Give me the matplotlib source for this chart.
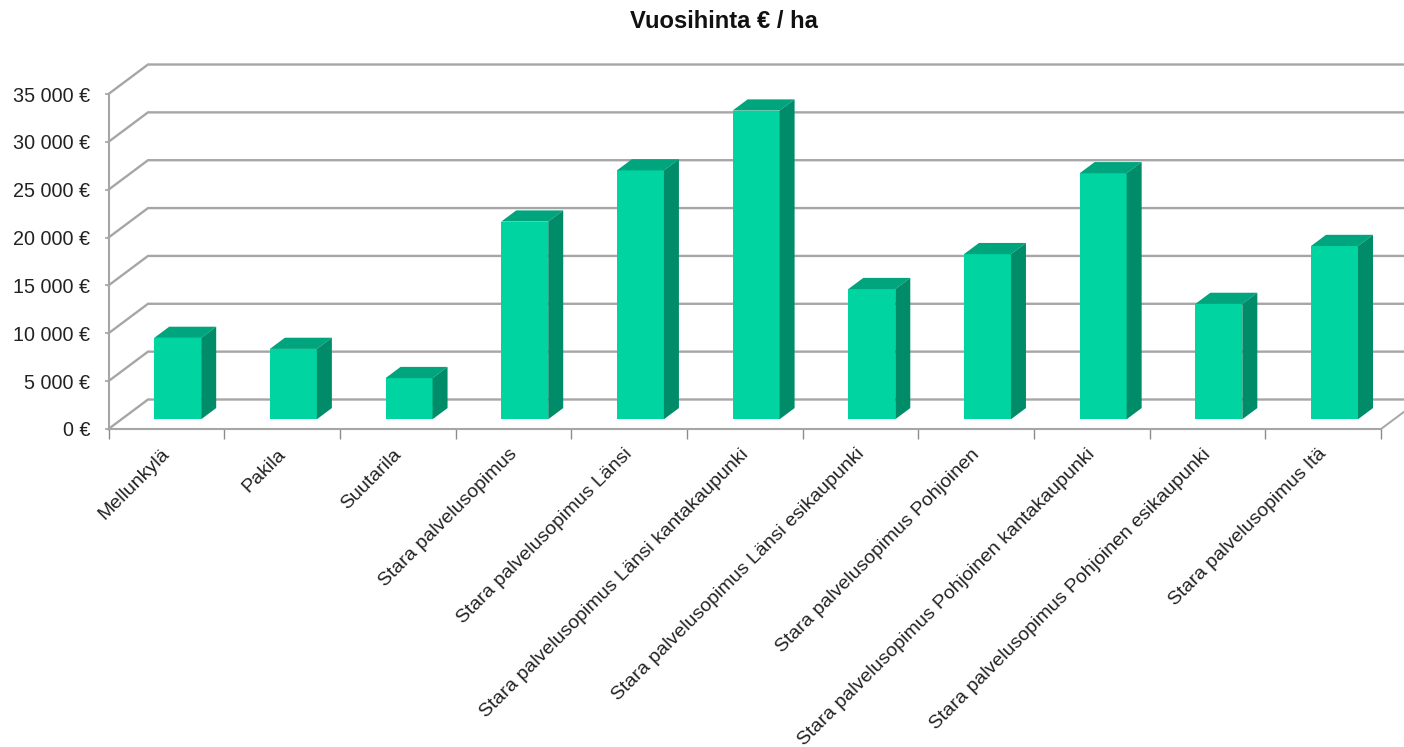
import matplotlib
matplotlib.use("Agg")
import matplotlib.pyplot as plt
from matplotlib.patches import Polygon
from matplotlib.ticker import FuncFormatter, FixedLocator, NullFormatter
from matplotlib.transforms import ScaledTranslation

plt.rcParams['font.family'] = ['Liberation Sans', 'DejaVu Sans']

categories = ["Mellunkylä", "Pakila", "Suutarila", "Stara palvelusopimus",
              "Stara palvelusopimus Länsi", "Stara palvelusopimus Länsi kantakaupunki",
              "Stara palvelusopimus Länsi esikaupunki", "Stara palvelusopimus Pohjoinen",
              "Stara palvelusopimus Pohjoinen kantakaupunki",
              "Stara palvelusopimus Pohjoinen esikaupunki", "Stara palvelusopimus Itä"]
values = [8500, 7350, 4300, 20650, 26000, 32250, 13600, 17250, 25700, 12050, 18100]
y_ticks = [0, 5000, 10000, 15000, 20000, 25000, 30000, 35000]

W, H = 1404, 747
L, R, T, B = 108.5, 1381.0, 94.0, 429.0
fig = plt.figure(figsize=(W / 100, H / 100), dpi=100, facecolor="white")
ax = fig.add_axes([L / W, 1 - B / H, (R - L) / W, (B - T) / H])
ax.set_xlim(0, len(categories))
ax.set_ylim(0, 35000)
ax.patch.set_alpha(0)

# Pseudo-3D depth, in data units
px_x = len(categories) / (R - L)
px_y = 35000 / (B - T)
DX, DY = 39.5 * px_x, 29.5 * px_y
GRID = "#a6a6a6"
depth0, depth1 = 0.33, 0.71
bar_w = 47 * px_x

# Walls / gridlines
for v in y_ticks:
    ax.plot([0, DX, len(categories) + DX], [v, v + DY, v + DY],
            color=GRID, lw=1.7, clip_on=False, zorder=1, solid_joinstyle="miter")
ax.plot([len(categories), len(categories) + DX], [0, DY], color=GRID, lw=1.4, clip_on=False, zorder=1)

# Bars
FRONT, TOP, SIDE = "#00D5A2", "#00A57D", "#008B69"
for i, v in enumerate(values):
    x0 = i + 0.5 - bar_w / 2 + depth0 * DX - 1.7 * px_x
    x1 = x0 + bar_w
    yb = depth0 * DY
    d = (depth1 - depth0)
    ax.bar(x0, v, width=bar_w, bottom=yb, align="edge", color=FRONT, lw=0, zorder=3, clip_on=False)
    ax.add_patch(Polygon([(x0, yb + v), (x1, yb + v), (x1 + d * DX, yb + v + d * DY), (x0 + d * DX, yb + v + d * DY)],
                         closed=True, fc=TOP, lw=0, zorder=3, clip_on=False))
    ax.add_patch(Polygon([(x1, yb), (x1 + d * DX, yb + d * DY), (x1 + d * DX, yb + v + d * DY), (x1, yb + v)],
                         closed=True, fc=SIDE, lw=0, zorder=3, clip_on=False))

for s in ["top", "right"]:
    ax.spines[s].set_visible(False)
for s in ["left", "bottom"]:
    ax.spines[s].set_color(GRID)
    ax.spines[s].set_linewidth(1.5)

ax.set_yticks(y_ticks)
ax.yaxis.set_major_formatter(FuncFormatter(lambda v, _: f"{int(v):,}".replace(",", " ") + " €"))
ax.tick_params(axis="y", length=3, width=1.2, color=GRID, labelsize=14.2, labelcolor="#222222", pad=10)

ax.xaxis.set_major_locator(FixedLocator(range(len(categories) + 1)))
ax.xaxis.set_major_formatter(NullFormatter())
ax.tick_params(axis="x", which="major", length=7, width=1.0, color="#8c8c8c")
ax.set_xticks([i + 0.5 for i in range(len(categories))], minor=True)
ax.set_xticklabels(categories, minor=True, rotation=45, ha="right", va="top",
                   rotation_mode="anchor", fontsize=14.0, color="#222222")
ax.tick_params(axis="x", which="minor", length=0, pad=12)
shift = ScaledTranslation(-5 / 100, 0, fig.dpi_scale_trans)
for lab in ax.get_xticklabels(minor=True):
    lab.set_transform(lab.get_transform() + shift)

fig.text(723.5 / W, 1 - 21 / H, "Vuosihinta € / ha", ha="center", va="center",
         fontsize=17.1, fontweight="bold", color="#111111")

fig.savefig("out.png", dpi=100)
